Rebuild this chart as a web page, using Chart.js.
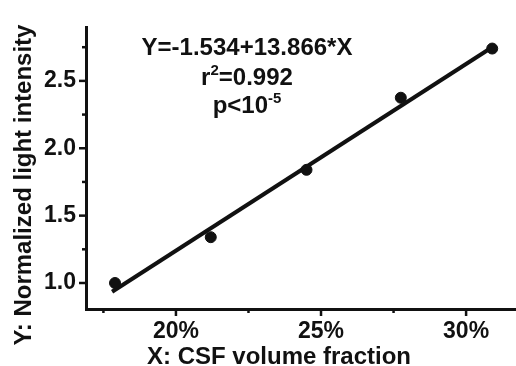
<!DOCTYPE html>
<html>
<head>
<meta charset="utf-8">
<script src="https://cdn.jsdelivr.net/npm/chart.js@4"></script>
<style>
  html, body { margin: 0; padding: 0; background: #fff; }
  #wrap { width: 516px; height: 366px; }
</style>
</head>
<body>
<div id="wrap"><canvas id="myChart"></canvas></div>
<script>
// Data (x in % CSF volume fraction)
const csfFraction = [17.9, 21.2, 24.5, 27.75, 30.9];
const lightIntensity = [1.0, 1.34, 1.84, 2.375, 2.74];

// Regression line end points
const fitX = [17.8, 30.95];
const fitY = [0.935, 2.757];

// Tick values
const xTicks = [17.5, 20, 22.5, 25, 27.5, 30];
const yTicks = [1.0, 1.25, 1.5, 1.75, 2.0, 2.25, 2.5, 2.75];

// Annotation text
const fitText = 'Y=-1.534+13.866*X';
const rText = ['r', '2', '=0.992'];
const pText = ['p<10', '-5'];

const xTitle = 'X: CSF volume fraction';
const yTitle = 'Y: Normalized light intensity';

const FONT = '"Liberation Sans", Arial, sans-serif';

const isXMajor = v => v % 5 === 0;
const isYMajor = v => Number.isInteger(v * 2);

/* ---------------------------------------------------------------------------------*/
/* Plugin: tick marks, axis titles and the fit text */
/* ---------------------------------------------------------------------------------*/
const extras = {
   id: 'extras',
   afterDraw(chart) {
      const ctx = chart.ctx;
      const xs = chart.scales.x;
      const ys = chart.scales.y;
      const area = chart.chartArea;

      ctx.save();
      ctx.strokeStyle = '#111';
      ctx.lineWidth = 2.5;

      // tick marks, labelled ones longer
      xTicks.forEach(v => {
         const px = xs.getPixelForValue(v);
         const len = isXMajor(v) ? 7 : 4;
         ctx.beginPath();
         ctx.moveTo(px, area.bottom);
         ctx.lineTo(px, area.bottom + len);
         ctx.stroke();
      });
      yTicks.forEach(v => {
         const py = ys.getPixelForValue(v);
         const len = isYMajor(v) ? 7 : 4;
         ctx.beginPath();
         ctx.moveTo(area.left, py);
         ctx.lineTo(area.left - len, py);
         ctx.stroke();
      });

      ctx.fillStyle = '#111';
      const big = 'bold 24px ' + FONT;
      const small = 'bold 15px ' + FONT;

      // axis titles
      ctx.font = big;
      ctx.textAlign = 'center';
      ctx.textBaseline = 'alphabetic';
      ctx.fillText(xTitle, 279, 364);

      ctx.save();
      ctx.translate(31, 185);
      ctx.rotate(-Math.PI / 2);
      ctx.fillText(yTitle, 0, 0);
      ctx.restore();

      // fit text
      const cx = 247;
      ctx.font = big;
      ctx.fillText(fitText, cx, 55);

      // r^2 line
      ctx.textAlign = 'left';
      ctx.font = big;
      const w1 = ctx.measureText(rText[0]).width;
      const w3 = ctx.measureText(rText[2]).width;
      ctx.font = small;
      const w2 = ctx.measureText(rText[1]).width;
      let start = cx - (w1 + w2 + w3) / 2;
      ctx.font = big;
      ctx.fillText(rText[0], start, 85);
      ctx.font = small;
      ctx.fillText(rText[1], start + w1, 75);
      ctx.font = big;
      ctx.fillText(rText[2], start + w1 + w2, 85);

      // p line
      ctx.font = big;
      const p1 = ctx.measureText(pText[0]).width;
      ctx.font = small;
      const p2 = ctx.measureText(pText[1]).width;
      start = cx - (p1 + p2) / 2;
      ctx.font = big;
      ctx.fillText(pText[0], start, 113);
      ctx.font = small;
      ctx.fillText(pText[1], start + p1, 103);

      ctx.restore();
   }
};

/* ---------------------------------------------------------------------------------*/
/* Chart */
/* ---------------------------------------------------------------------------------*/
const ctx = document.querySelector('#myChart');

const data = {
   datasets: [
      {
         type: 'line',
         data: fitX.map((x, i) => ({ x: x, y: fitY[i] })),
         borderColor: '#111',
         borderWidth: 4,
         pointRadius: 0,
         fill: false,
         order: 2
      },
      {
         type: 'scatter',
         data: csfFraction.map((x, i) => ({ x: x, y: lightIntensity[i] })),
         backgroundColor: '#111',
         borderColor: '#111',
         pointRadius: 5.5,
         order: 1
      }
   ]
};

const config = {
   type: 'scatter',
   data: data,
   options: {
      responsive: true,
      maintainAspectRatio: false,
      animation: false,
      layout: {
         autoPadding: false,
         padding: { top: 27, right: 0, left: 0, bottom: 0 }
      },
      plugins: {
         legend: { display: false },
         tooltip: { enabled: false }
      },
      scales: {
         x: {
            type: 'linear',
            min: 16.9,
            max: 31.72,
            afterBuildTicks: scale => {
               scale.ticks = xTicks.map(v => ({ value: v }));
            },
            afterFit: scale => {
               scale.height = 57;
               scale.paddingLeft = 0;
               scale.paddingRight = 0;
            },
            grid: { display: false, drawTicks: false },
            border: { display: true, color: '#111', width: 3 },
            ticks: {
               autoSkip: false,
               maxRotation: 0,
               padding: 9,
               color: '#111',
               font: { family: FONT, size: 23, weight: 'bold' },
               callback: v => isXMajor(v) ? v + '%' : ''
            }
         },
         y: {
            type: 'linear',
            min: 0.807,
            max: 2.9,
            afterBuildTicks: scale => {
               scale.ticks = yTicks.map(v => ({ value: v }));
            },
            afterFit: scale => {
               scale.width = 86;
               scale.paddingTop = 0;
               scale.paddingBottom = 0;
            },
            grid: { display: false, drawTicks: false },
            border: { display: true, color: '#111', width: 3 },
            ticks: {
               autoSkip: false,
               padding: 10,
               color: '#111',
               font: { family: FONT, size: 23, weight: 'bold' },
               callback: v => isYMajor(v) ? v.toFixed(1) : ''
            }
         }
      }
   },
   plugins: [extras]
};

const scatterChart = new Chart(ctx, config);
</script>
</body>
</html>
